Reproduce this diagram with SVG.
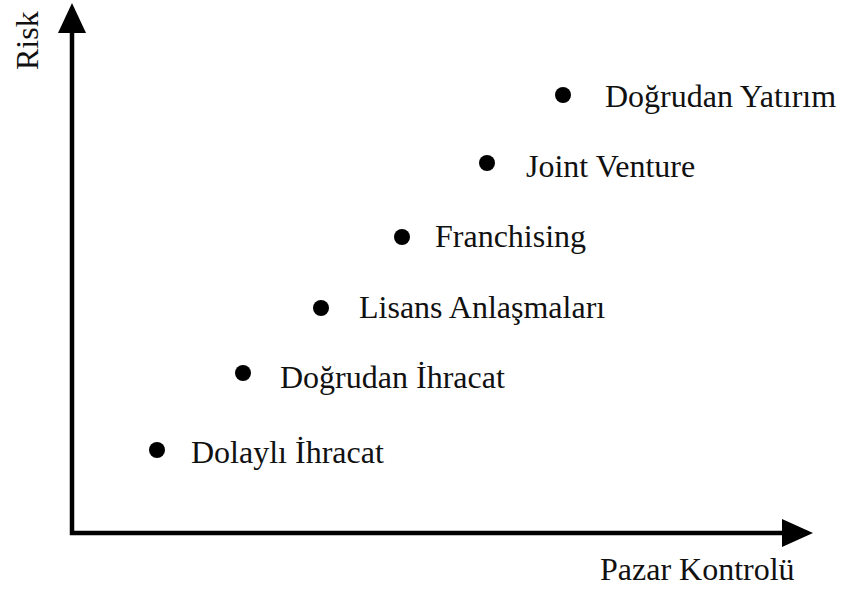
<svg xmlns="http://www.w3.org/2000/svg" width="845" height="592" viewBox="0 0 845 592">
  <style>
    .axis { stroke: #000; stroke-width: 4.5; fill: none; }
    .head { fill: #000; }
    .dot { fill: #000; }
    .lbl { font-family: "Liberation Serif", "Times New Roman", serif; font-size: 32px; fill: #111; }
  </style>
  <rect width="845" height="592" fill="#fff"/>

  <!-- axes -->
  <g id="connectors">
    <path class="axis" d="M72,32 V533 H784"/>
    <polygon class="head" points="72,3 58,33 86,33"/>
    <polygon class="head" points="813,533 782,519 782,547"/>
  </g>

  <g id="axis-labels">
    <text class="lbl" transform="translate(38,70) rotate(-90)">Risk</text>
    <text class="lbl" x="600" y="580">Pazar Kontrolü</text>
  </g>

  <!-- entry modes -->
  <g id="dolayli-ihracat">
    <circle class="dot" cx="157" cy="450" r="8"/>
    <text class="lbl" x="191" y="463">Dolaylı İhracat</text>
  </g>
  <g id="dogrudan-ihracat">
    <circle class="dot" cx="243" cy="373" r="8"/>
    <text class="lbl" x="280" y="388">Doğrudan İhracat</text>
  </g>
  <g id="lisans-anlasmalari">
    <circle class="dot" cx="321" cy="308" r="8"/>
    <text class="lbl" x="359" y="318">Lisans Anlaşmaları</text>
  </g>
  <g id="franchising">
    <circle class="dot" cx="402" cy="237" r="8"/>
    <text class="lbl" x="435" y="247">Franchising</text>
  </g>
  <g id="joint-venture">
    <circle class="dot" cx="487" cy="163" r="8"/>
    <text class="lbl" x="526" y="177">Joint Venture</text>
  </g>
  <g id="dogrudan-yatirim">
    <circle class="dot" cx="563" cy="95" r="8"/>
    <text class="lbl" x="605" y="107">Doğrudan Yatırım</text>
  </g>
</svg>
